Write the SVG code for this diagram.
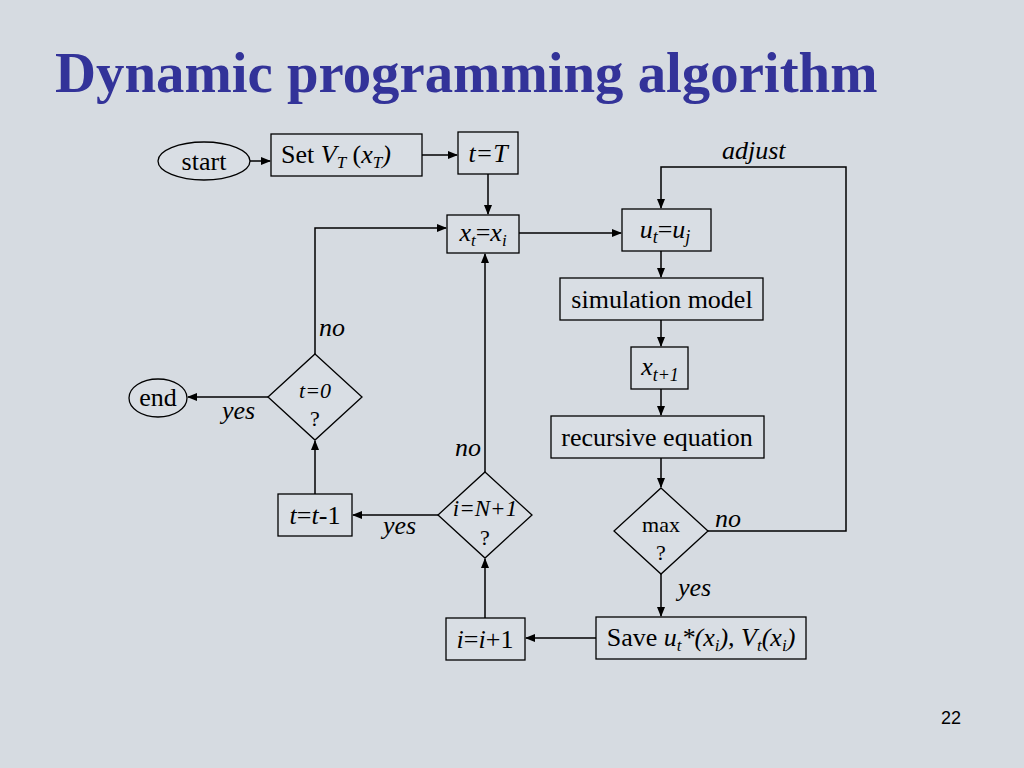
<svg xmlns="http://www.w3.org/2000/svg" width="1024" height="768" viewBox="0 0 1024 768">
<defs>
<marker id="arr" markerWidth="10" markerHeight="8" refX="9" refY="4" orient="auto" markerUnits="userSpaceOnUse">
<path d="M0,0 L10,4 L0,8 Z" fill="#000"/>
</marker>
<style>
.n{fill:#d9dee4;stroke:#000;stroke-width:1.3}
.c{fill:none;stroke:#000;stroke-width:1.5}
.a{marker-end:url(#arr)}
</style>
</defs>
<rect width="1024" height="768" fill="#d6dbe1"/>
<text x="55" y="92" font-family="Liberation Serif, serif" font-weight="bold" font-size="56.8" fill="#333399">Dynamic programming algorithm</text>

<g id="connectors">
<path class="c a" d="M250,161 H270"/>
<path class="c a" d="M422,155 H457"/>
<path class="c a" d="M488,174 V214"/>
<path class="c a" d="M519,233 H621"/>
<path class="c a" d="M708,531 H846 V167 H661 V208"/>
<path class="c a" d="M661,251 V277"/>
<path class="c a" d="M661,320 V346"/>
<path class="c a" d="M661,389 V415"/>
<path class="c a" d="M661,458 V487"/>
<path class="c a" d="M661,574 V616"/>
<path class="c a" d="M596,638 H526"/>
<path class="c a" d="M485,618 V559"/>
<path class="c a" d="M485,472 V254"/>
<path class="c a" d="M438,515 H353"/>
<path class="c a" d="M315,494 V441"/>
<path class="c a" d="M268,397 H188"/>
<path class="c a" d="M315,354 V228 H446"/>
</g>

<g id="labels">
<text x="722" y="159" font-family="Liberation Serif, serif" font-size="26" font-style="italic" fill="#000">adjust</text>
<text x="319" y="336" font-family="Liberation Serif, serif" font-size="26" font-style="italic" fill="#000">no</text>
<text x="222" y="419" font-family="Liberation Serif, serif" font-size="26" font-style="italic" fill="#000">yes</text>
<text x="455" y="456" font-family="Liberation Serif, serif" font-size="26" font-style="italic" fill="#000">no</text>
<text x="383" y="534" font-family="Liberation Serif, serif" font-size="26" font-style="italic" fill="#000">yes</text>
<text x="715" y="527" font-family="Liberation Serif, serif" font-size="26" font-style="italic" fill="#000">no</text>
<text x="678" y="596" font-family="Liberation Serif, serif" font-size="26" font-style="italic" fill="#000">yes</text>
</g>

<g id="start">
<ellipse class="n" cx="204" cy="161" rx="46" ry="19"/>
<text x="204" y="170" font-family="Liberation Serif, serif" font-size="26" text-anchor="middle">start</text>
</g>
<g id="setV">
<rect class="n" x="271" y="134" width="151" height="42"/>
<text x="336" y="163" font-family="Liberation Serif, serif" font-size="26" text-anchor="middle">Set <tspan font-style="italic">V</tspan><tspan font-style="italic" font-size="17" dy="5">T</tspan><tspan dy="-5"> (</tspan><tspan font-style="italic">x</tspan><tspan font-style="italic" font-size="17" dy="5">T</tspan><tspan font-style="italic" dy="-5">)</tspan></text>
</g>
<g id="tT">
<rect class="n" x="458" y="132" width="60" height="42"/>
<text x="488" y="162" font-family="Liberation Serif, serif" font-size="26" font-style="italic" text-anchor="middle">t=T</text>
</g>
<g id="xt">
<rect class="n" x="447" y="215" width="72" height="38"/>
<text x="483" y="241" font-family="Liberation Serif, serif" font-size="26" text-anchor="middle"><tspan font-style="italic">x</tspan><tspan font-style="italic" font-size="17" dy="5">t</tspan><tspan dy="-5">=</tspan><tspan font-style="italic">x</tspan><tspan font-style="italic" font-size="17" dy="5">i</tspan></text>
</g>
<g id="ut">
<rect class="n" x="622" y="209" width="89" height="42"/>
<text x="665" y="238" font-family="Liberation Serif, serif" font-size="26" text-anchor="middle"><tspan font-style="italic">u</tspan><tspan font-style="italic" font-size="18" dy="5">t</tspan><tspan dy="-5">=</tspan><tspan font-style="italic">u</tspan><tspan font-style="italic" font-size="18" dy="5">j</tspan></text>
</g>
<g id="sim">
<rect class="n" x="560" y="278" width="203" height="42"/>
<text x="662" y="308" font-family="Liberation Serif, serif" font-size="26" text-anchor="middle">simulation model</text>
</g>
<g id="xt1">
<rect class="n" x="631" y="347" width="57" height="42"/>
<text x="660" y="375" font-family="Liberation Serif, serif" font-size="26" text-anchor="middle"><tspan font-style="italic">x</tspan><tspan font-style="italic" font-size="18" dy="6">t+1</tspan></text>
</g>
<g id="rec">
<rect class="n" x="551" y="416" width="213" height="42"/>
<text x="657" y="446" font-family="Liberation Serif, serif" font-size="26" text-anchor="middle">recursive equation</text>
</g>
<g id="max">
<polygon class="n" points="661,488 708,531 661,574 614,531"/>
<text x="661" y="532" font-family="Liberation Serif, serif" font-size="22" text-anchor="middle">max</text>
<text x="661" y="560" font-family="Liberation Serif, serif" font-size="22" text-anchor="middle">?</text>
</g>
<g id="save">
<rect class="n" x="596" y="617" width="210" height="42"/>
<text x="701" y="646" font-family="Liberation Serif, serif" font-size="26" text-anchor="middle">Save <tspan font-style="italic">u</tspan><tspan font-style="italic" font-size="17" dy="5">t</tspan><tspan font-style="italic" dy="-5">*(x</tspan><tspan font-style="italic" font-size="17" dy="5">i</tspan><tspan font-style="italic" dy="-5">), V</tspan><tspan font-style="italic" font-size="17" dy="5">t</tspan><tspan font-style="italic" dy="-5">(x</tspan><tspan font-style="italic" font-size="17" dy="5">i</tspan><tspan font-style="italic" dy="-5">)</tspan></text>
</g>
<g id="inc">
<rect class="n" x="446" y="618" width="79" height="42"/>
<text x="485" y="648" font-family="Liberation Serif, serif" font-size="26" text-anchor="middle"><tspan font-style="italic">i</tspan>=<tspan font-style="italic">i</tspan>+1</text>
</g>
<g id="iN">
<polygon class="n" points="485,472 532,515 485,558 438,515"/>
<text x="485" y="516" font-family="Liberation Serif, serif" font-size="23" font-style="italic" text-anchor="middle">i=N+1</text>
<text x="485" y="545" font-family="Liberation Serif, serif" font-size="22" text-anchor="middle">?</text>
</g>
<g id="tdec">
<rect class="n" x="278" y="494" width="74" height="42"/>
<text x="315" y="524" font-family="Liberation Serif, serif" font-size="26" text-anchor="middle"><tspan font-style="italic">t</tspan>=<tspan font-style="italic">t</tspan>-1</text>
</g>
<g id="t0">
<polygon class="n" points="315,354 362,397 315,440 268,397"/>
<text x="315" y="398" font-family="Liberation Serif, serif" font-size="22" font-style="italic" text-anchor="middle">t=0</text>
<text x="315" y="426" font-family="Liberation Serif, serif" font-size="22" text-anchor="middle">?</text>
</g>
<g id="end">
<ellipse class="n" cx="158" cy="398" rx="29" ry="19"/>
<text x="158" y="406" font-family="Liberation Serif, serif" font-size="26" text-anchor="middle">end</text>
</g>
<text x="951" y="724" font-family="Liberation Sans, sans-serif" font-size="18" fill="#000" text-anchor="middle">22</text>
</svg>
